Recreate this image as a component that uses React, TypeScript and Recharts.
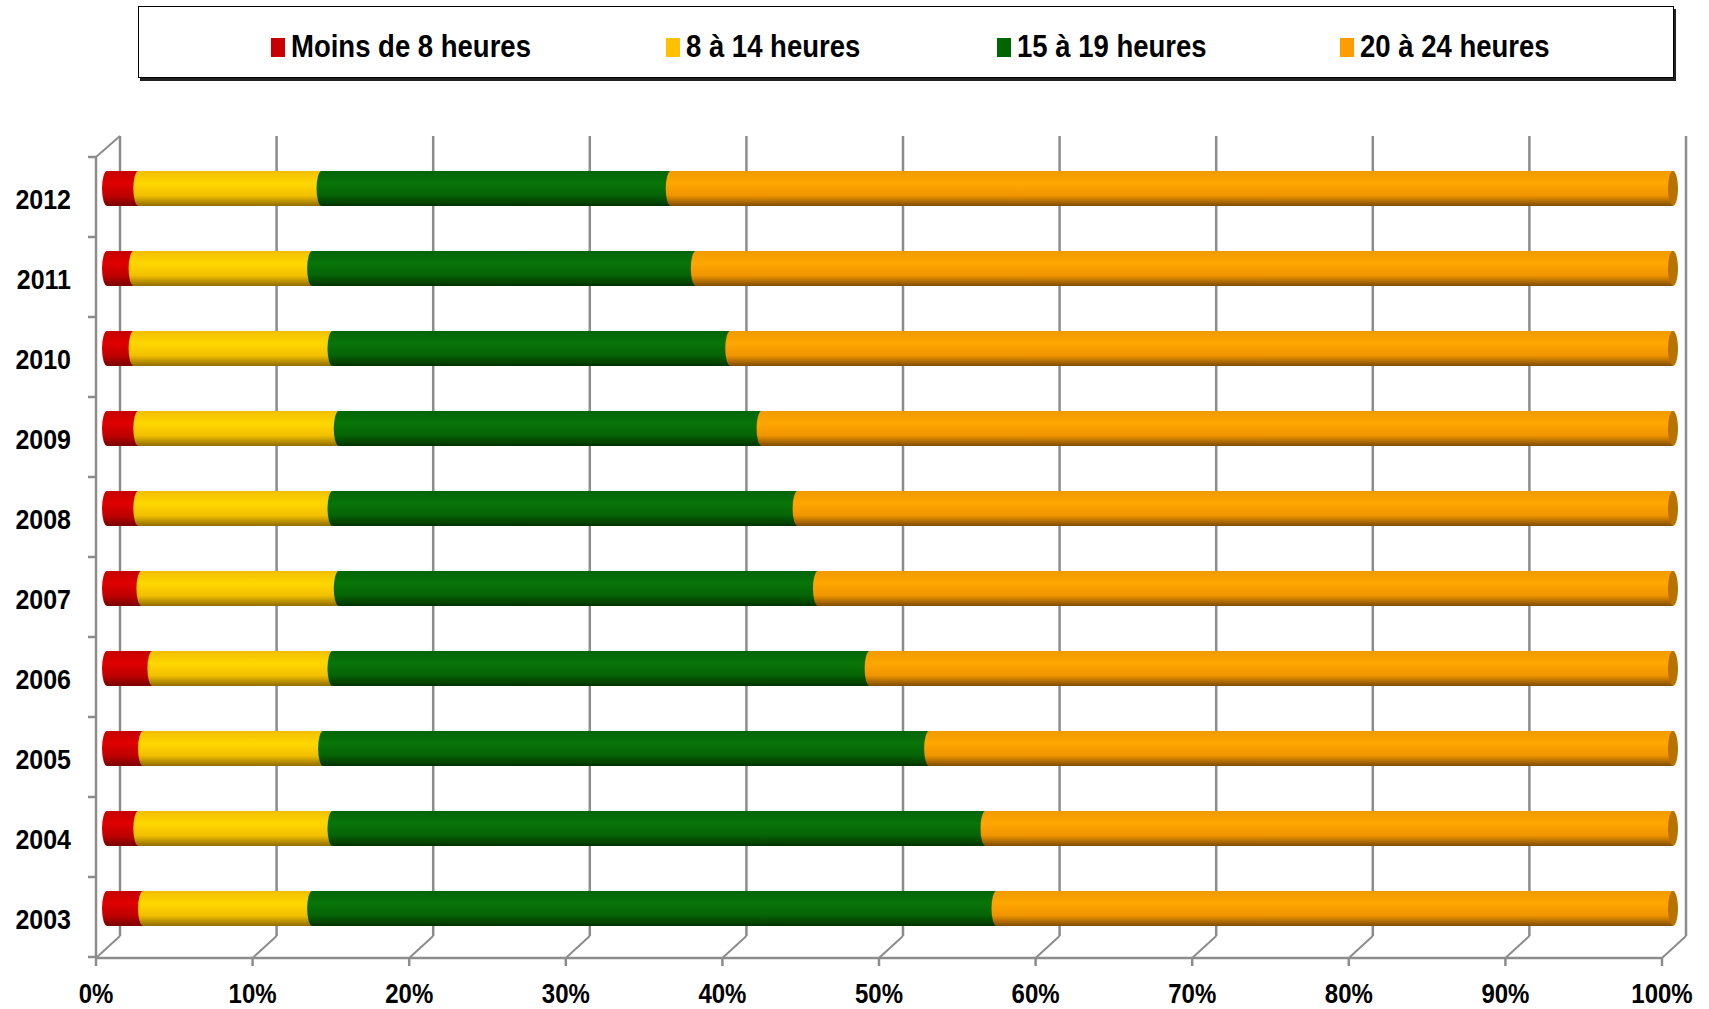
import React from 'react';
import { BarChart, Bar, XAxis, YAxis, CartesianGrid, Legend } from 'recharts';

// parts of each year, in %, top bar first
const years = ['2012', '2011', '2010', '2009', '2008', '2007', '2006', '2005', '2004', '2003'];
const moins8 = [2.0, 1.7, 1.7, 2.0, 2.0, 2.2, 2.9, 2.3, 2.0, 2.3];
const de8a14 = [11.7, 11.4, 12.7, 12.8, 12.4, 12.6, 11.5, 11.5, 12.4, 10.8];
const de15a19 = [22.3, 24.5, 25.4, 27.0, 29.7, 30.6, 34.3, 38.7, 41.7, 43.7];
const de20a24 = [64.0, 62.4, 60.2, 58.2, 55.9, 54.6, 51.3, 47.5, 43.9, 43.2];

const xTicks = [0, 10, 20, 30, 40, 50, 60, 70, 80, 90, 100];

const series = [
    { key: 'moins8', name: 'Moins de 8 heures', color: '#C80000', grad: 'gRed' },
    { key: 'de8a14', name: '8 à 14 heures', color: '#FFC000', grad: 'gYellow' },
    { key: 'de15a19', name: '15 à 19 heures', color: '#006600', grad: 'gGreen' },
    { key: 'de20a24', name: '20 à 24 heures', color: '#FF9C00', grad: 'gOrange' },
];

const data = years.map((year, i) => ({
    year,
    moins8: moins8[i],
    de8a14: de8a14[i],
    de15a19: de15a19[i],
    de20a24: de20a24[i],
}));

const W = 1709;
const H = 1009;
const PLOT_LEFT = 107;
const PLOT_W = 1566;
const FRONT_DX = -11;   // front plane (axes, labels)
const BACK_DX = 13;     // back plane (grid)
const FRONT_Y = 958;
const BACK_Y = 936;
const GRID = '#8c8c8c';
const FONT = '"Liberation Sans", Arial, sans-serif';
const STRETCH = 1.13;

const XTick = (props: any) => {
    const { x, payload, index } = props;
    const fx = x + FRONT_DX;
    const step = PLOT_W / 10;
    return (
        <g>
            {index < xTicks.length - 1 && (
                <line x1={fx} y1={FRONT_Y} x2={fx + step} y2={FRONT_Y} stroke={GRID} strokeWidth={2.5} />
            )}
            <line x1={fx} y1={FRONT_Y} x2={fx} y2={FRONT_Y + 8} stroke={GRID} strokeWidth={2.5} />
            <line x1={fx} y1={FRONT_Y} x2={x + BACK_DX} y2={BACK_Y} stroke={GRID} strokeWidth={2} />
            <text
                transform={`translate(${fx},1003) scale(1,${STRETCH})`}
                textAnchor="middle"
                fontFamily={FONT}
                fontWeight="bold"
                fontSize={24}
                fill="#000"
            >
                {`${payload.value}%`}
            </text>
        </g>
    );
};

const YTick = (props: any) => {
    const { y, payload, index } = props;
    const wx = PLOT_LEFT + FRONT_DX;
    const top = y - 31;
    const bottom = y + 49;
    return (
        <g>
            <line x1={wx} y1={top} x2={wx} y2={bottom} stroke={GRID} strokeWidth={2.5} />
            <line x1={wx - 8} y1={top} x2={wx} y2={top} stroke={GRID} strokeWidth={2.5} />
            {index === years.length - 1 && (
                <line x1={wx - 8} y1={bottom} x2={wx} y2={bottom} stroke={GRID} strokeWidth={2.5} />
            )}
            {index === 0 && (
                <line x1={wx} y1={top} x2={PLOT_LEFT + BACK_DX} y2={top - 21} stroke={GRID} strokeWidth={2} />
            )}
            <text
                transform={`translate(71,${y + 21}) scale(1,${STRETCH})`}
                textAnchor="end"
                fontFamily={FONT}
                fontWeight="bold"
                fontSize={25}
                fill="#000"
            >
                {payload.value}
            </text>
        </g>
    );
};

const Cylinder = (props: any) => {
    const { x, y, width, height, grad, cap } = props;
    if (!width || width <= 0) return null;
    const ry = height / 2;
    return (
        <g>
            <rect x={x} y={y} width={width} height={height} fill={`url(#${grad})`} />
            <ellipse cx={x} cy={y + ry} rx={5} ry={ry} fill={`url(#${grad})`} />
            {cap && <ellipse cx={x + width} cy={y + ry} rx={5} ry={ry} fill={cap} />}
        </g>
    );
};

const LegendBox = () => (
    <div
        style={{
            position: 'relative',
            width: 1536,
            height: 72,
            border: '1.5px solid #000',
            boxShadow: '2px 3px 0 #222',
            background: '#fff',
            boxSizing: 'border-box',
            fontFamily: FONT,
            fontWeight: 'bold',
            fontSize: 27.5,
            color: '#000',
        }}
    >
        {series.map((s, i) => {
            const left = [132, 527, 858, 1201][i];
            return (
                <div key={s.key} style={{ position: 'absolute', left, top: 28, display: 'flex', alignItems: 'flex-end' }}>
                    <span style={{ display: 'inline-block', width: 14, height: 19, background: s.color, marginRight: 6 }} />
                    <span style={{ display: 'inline-block', transform: `scaleY(${STRETCH + 0.04})`, lineHeight: '22px', whiteSpace: 'nowrap' }}>
                        {s.name}
                    </span>
                </div>
            );
        })}
    </div>
);

export default function App() {
    return (
        <div style={{ position: 'absolute', left: 0, top: 0, width: W, height: H, background: '#fff' }}>
            <BarChart
                width={W}
                height={H}
                data={data}
                layout="vertical"
                margin={{ top: 148, right: 36, bottom: 0, left: 0 }}
                barSize={35}
            >
                <defs>
                    <linearGradient id="gRed" x1="0" y1="0" x2="0" y2="1">
                        <stop offset="0" stopColor="#c40000" />
                        <stop offset="0.35" stopColor="#e00000" />
                        <stop offset="0.7" stopColor="#c00000" />
                        <stop offset="1" stopColor="#7a0000" />
                    </linearGradient>
                    <linearGradient id="gYellow" x1="0" y1="0" x2="0" y2="1">
                        <stop offset="0" stopColor="#f0bf00" />
                        <stop offset="0.35" stopColor="#ffd700" />
                        <stop offset="0.7" stopColor="#f2c000" />
                        <stop offset="1" stopColor="#8f6c00" />
                    </linearGradient>
                    <linearGradient id="gGreen" x1="0" y1="0" x2="0" y2="1">
                        <stop offset="0" stopColor="#05640a" />
                        <stop offset="0.35" stopColor="#087508" />
                        <stop offset="0.7" stopColor="#056305" />
                        <stop offset="1" stopColor="#003300" />
                    </linearGradient>
                    <linearGradient id="gOrange" x1="0" y1="0" x2="0" y2="1">
                        <stop offset="0" stopColor="#f09a00" />
                        <stop offset="0.35" stopColor="#ffa700" />
                        <stop offset="0.7" stopColor="#f09400" />
                        <stop offset="1" stopColor="#7d4c00" />
                    </linearGradient>
                </defs>
                <CartesianGrid
                    horizontal={false}
                    vertical
                    y={136}
                    height={800}
                    stroke={GRID}
                    strokeWidth={2.5}
                    verticalCoordinatesGenerator={({ offset }: any) =>
                        xTicks.map((t) => offset.left + (t / 100) * offset.width + BACK_DX)
                    }
                />
                <XAxis
                    type="number"
                    domain={[0, 100]}
                    ticks={xTicks}
                    height={61}
                    axisLine={false}
                    tickLine={false}
                    tick={(p: any) => <XTick {...p} />}
                    interval={0}
                />
                <YAxis
                    type="category"
                    dataKey="year"
                    width={107}
                    axisLine={false}
                    tickLine={false}
                    tick={(p: any) => <YTick {...p} />}
                    interval={0}
                />
                <Legend
                    layout="horizontal"
                    verticalAlign="middle"
                    align="center"
                    wrapperStyle={{ top: 6, left: 138, width: 1536, height: 74 }}
                    content={() => <LegendBox />}
                />
                {series.map((s, i) => (
                    <Bar
                        key={s.key}
                        dataKey={s.key}
                        name={s.name}
                        stackId="a"
                        fill={s.color}
                        isAnimationActive={false}
                        shape={(p: any) => (
                            <Cylinder {...p} grad={s.grad} cap={i === series.length - 1 ? '#b87200' : undefined} />
                        )}
                    />
                ))}
            </BarChart>
        </div>
    );
}
